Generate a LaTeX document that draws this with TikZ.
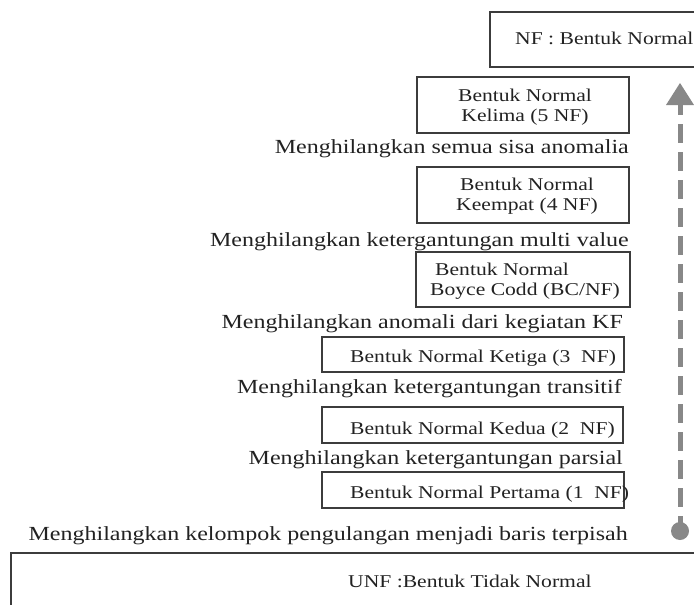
\documentclass[tikz,border=0pt]{standalone}
\usepackage{fontspec}
\setmainfont{Liberation Serif}
\definecolor{boxline}{HTML}{3C3C3C}
\definecolor{inkgray}{HTML}{222222}
\definecolor{arrowgray}{HTML}{888888}
% the lettering is set slightly wide
\newcommand{\stretchtext}[1]{\scalebox{1.2}[1]{#1}}
\tikzset{
  nfbox/.style={draw=boxline, line width=1.5pt},
  boxtext/.style={font=\fontsize{18}{20}\selectfont, inner sep=0pt, text=inkgray},
  steplabel/.style={font=\fontsize{20}{22}\selectfont, inner sep=0pt, anchor=base east, text=inkgray},
}
\begin{document}
\begin{tikzpicture}[x=1pt, y=-1pt]
  \useasboundingbox (0,0) rectangle (694,605);
  \fill[white] (0,0) rectangle (694,605);

  % normal form boxes, top to bottom
  \draw[nfbox] (490,12) rectangle (712,67);
  \node[boxtext, anchor=base west] (nf) at (515,45) {\stretchtext{NF : Bentuk Normal}};

  \draw[nfbox] (417,77) rectangle (629,133);
  \node[boxtext, align=center] (nf5) at (525,107.6)
    {\stretchtext{Bentuk Normal}\\\stretchtext{Kelima (5 NF)}};

  \draw[nfbox] (417,167) rectangle (629,223);
  \node[boxtext, align=center] (nf4) at (527,195.9)
    {\stretchtext{Bentuk Normal}\\\stretchtext{Keempat (4 NF)}};

  \draw[nfbox] (416,252) rectangle (630,307);
  \node[boxtext, align=left, anchor=west] (bcnf) at (430,280.9)
    {\hspace{5pt}\stretchtext{Bentuk Normal}\\\stretchtext{Boyce Codd (BC/NF)}};

  \draw[nfbox] (322,337) rectangle (624,372);
  \node[boxtext, anchor=base west] (nf3) at (350,362) {\stretchtext{Bentuk Normal Ketiga (3\ \ NF)}};

  \draw[nfbox] (322,407) rectangle (623,443);
  \node[boxtext, anchor=base west] (nf2) at (350,434) {\stretchtext{Bentuk Normal Kedua (2\ \ NF)}};

  \draw[nfbox] (322,472) rectangle (624,508);
  \node[boxtext, anchor=base west] (nf1) at (350,498) {\stretchtext{Bentuk Normal Pertama (1\ \ NF)}};

  \draw[nfbox] (11,553) rectangle (712,625);
  \node[boxtext, anchor=base west] (unf) at (348,587) {\stretchtext{UNF :Bentuk Tidak Normal}};

  % what each step removes
  \node[steplabel] (l5) at (629,153) {\stretchtext{Menghilangkan semua sisa anomalia}};
  \node[steplabel] (l4) at (629,246) {\stretchtext{Menghilangkan ketergantungan multi value}};
  \node[steplabel] (lbc) at (623,328) {\stretchtext{Menghilangkan anomali dari kegiatan KF}};
  \node[steplabel] (l3) at (622,393) {\stretchtext{Menghilangkan ketergantungan transitif}};
  \node[steplabel] (l2) at (623,464) {\stretchtext{Menghilangkan ketergantungan parsial}};
  \node[steplabel] (l1) at (628,540) {\stretchtext{Menghilangkan kelompok pengulangan menjadi baris terpisah}};

  % upward progress arrow
  \coordinate (start) at (680,531);
  \coordinate (tip) at (680,83);
  \coordinate (headbase) at (680,105);
  \fill[arrowgray] (start) circle (9);
  \draw[arrowgray, line width=5pt, dash pattern=on 19pt off 9pt, dash phase=9pt]
    (headbase) -- (start);
  \fill[arrowgray] (tip) -- ([xshift=14pt]headbase) -- ([xshift=-14pt]headbase) -- cycle;
\end{tikzpicture}
\end{document}
